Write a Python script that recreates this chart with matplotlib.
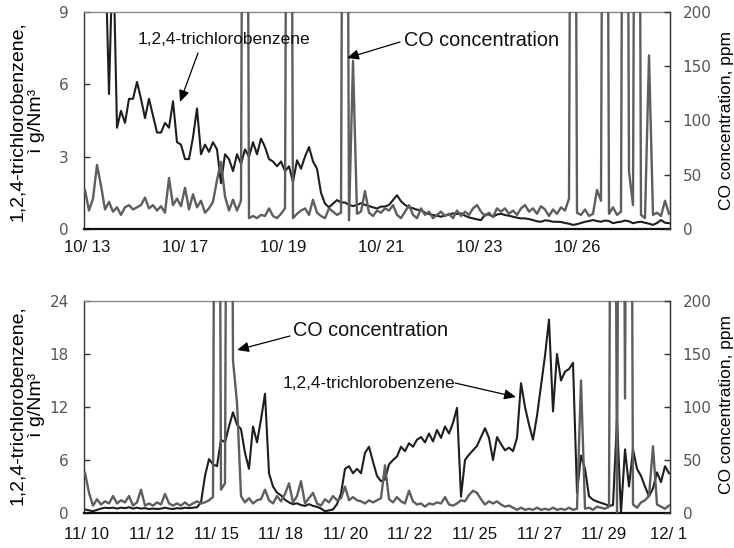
import matplotlib.pyplot as plt
import numpy as np

nan = np.nan

# October run: 1,2,4-trichlorobenzene (ug/Nm3) and CO (ppm), one value per sample
tcb_oct = [nan, nan, nan, nan, nan, 12.0, 5.6, 12.0, 4.2, 4.9,
           4.4, 5.4, 5.4, 6.1, 5.4, 4.6, 5.4, 4.7, 4.0, 4.0,
           4.4, 4.2, 5.3, 3.6, 3.5, 2.9, 2.9, 3.8, 5.0, 3.1,
           3.5, 3.2, 3.6, 3.3, 1.9, 3.1, 2.9, 2.4, 3.1, 2.7,
           3.3, 3.0, 3.6, 3.1, 3.75, 3.4, 2.9, 2.8, 2.6, 2.8,
           2.4, 2.6, 1.95, 2.85, 2.5, 3.0, 3.4, 2.8, 2.5, 1.5,
           1.05, 0.9, 1.05, 1.2, 1.1, 1.1, 1.0, 0.95, 1.0, 1.07,
           1.0, 0.95, 0.9, 0.85, 0.93, 0.93, 1.0, 1.2, 1.4, 1.15,
           1.0, 0.9, 0.86, 0.8, 0.78, 0.68, 0.62, 0.58, 0.55, 0.51,
           0.56, 0.6, 0.65, 0.62, 0.65, 0.55, 0.48, 0.44, 0.4, 0.37,
           0.6, 0.6, 0.51, 0.6, 0.63, 0.58, 0.55, 0.51, 0.47, 0.44,
           0.44, 0.41, 0.37, 0.32, 0.3, 0.36, 0.34, 0.3, 0.3, 0.29,
           0.25, 0.22, 0.17, 0.2, 0.25, 0.3, 0.33, 0.37, 0.33, 0.3,
           0.35, 0.33, 0.24, 0.28, 0.3, 0.35, 0.32, 0.24, 0.28, 0.3,
           0.26, 0.22, 0.17, 0.25, 0.37, 0.26, 0.24]
co_oct = [36, 17, 28, 59, 40, 18, 25, 16, 20, 13,
          20, 22, 18, 20, 22, 29, 19, 22, 17, 21,
          15, 47, 22, 28, 21, 38, 18, 32, 20, 26,
          15, 19, 25, 45, 62, 30, 17, 27, 17, 26,
          1000, 10, 12, 10, 13, 12, 19, 12, 10, 14,
          19, 1000, 10, 14, 17, 19, 13, 27, 15, 12,
          10, 19, 16, 13, 15, 1000, 8, 155, 14, 16,
          35, 15, 12, 17, 15, 19, 17, 22, 13, 10,
          16, 22, 13, 10, 19, 13, 16, 10, 13, 16,
          12, 14, 10, 17, 12, 16, 13, 19, 22, 16,
          12, 15, 11, 19, 16, 19, 14, 17, 13, 19,
          22, 16, 19, 14, 21, 18, 12, 18, 14, 20,
          17, 28, 1000, 15, 13, 18, 12, 14, 36, 26,
          1000, 14, 20, 13, 16, 1000, 53, 22, 1000, 13,
          10, 160, 13, 15, 12, 26, 14]

# November run
tcb_nov = [0.4, 0.3, 0.2, 0.35, 0.5, 0.6, 0.55, 0.6, 0.5, 0.6,
           0.55, 0.65, 0.5, 0.6, 0.5, 0.55, 0.45, 0.5, 0.45, 0.5,
           0.6, 0.5, 0.45, 0.55, 0.5, 0.6, 0.55, 0.6, 0.65, 1.2,
           4.2, 6.1, 5.5, 5.3, 8.3, 8.0, 9.8, 11.4, 10.0, 9.5,
           6.8, 5.0, 9.8, 8.0, 10.6, 13.5, 4.5, 3.0, 2.3, 2.0,
           1.5, 1.2, 1.0, 1.1, 0.9, 0.8, 1.0, 0.8, 0.7, 0.5,
           0.2, 0.3, 0.4, 1.0, 2.2, 5.0, 5.3, 4.5, 5.0, 4.5,
           6.8, 7.5, 5.8, 4.2, 3.6, 3.8, 5.5, 6.0, 6.4, 7.5,
           7.0, 7.9, 7.5, 8.3, 8.6, 8.0, 9.0, 8.1, 9.4, 8.5,
           9.8, 9.0, 10.2, 11.9, 1.85, 6.0, 6.6, 7.1, 7.6, 8.6,
           9.6, 8.5, 6.0, 8.6, 7.8, 7.1, 7.4, 7.0, 8.5, 14.7,
           12.0, 10.0, 8.3, 11.0, 14.4, 17.8, 21.9, 11.5, 18.0, 15.0,
           16.0, 16.3, 17.0, 2.3, 6.5, 5.0, 1.9, 1.5, 1.3, 1.15,
           1.0, 0.8, 0.9, 10.6, 0.0, 7.2, 3.0, 7.2, 5.0, 4.2,
           3.0, 1.9, 2.8, 4.6, 3.5, 5.3, 4.5]
co_nov = [38, 19, 7, 13, 8, 11, 9, 16, 9, 12,
          10, 16, 7, 10, 22, 7, 9, 7, 10, 8,
          18, 9, 7, 9, 7, 10, 7, 9, 11, 9,
          10, 12, 15, 1000, 22, 28, 1000, 144, 104, 16,
          10, 14, 9, 12, 13, 22, 12, 9, 16, 11,
          18, 28, 10, 16, 30, 9, 14, 19, 9, 7,
          13, 10, 16, 12, 14, 25, 12, 15, 12, 11,
          9, 12, 10, 12, 14, 45, 13, 10, 15, 11,
          9, 21, 11, 8, 9, 6, 9, 8, 10, 9,
          15, 8, 7, 9, 12, 11, 17, 21, 19, 13,
          8, 11, 9, 11, 8, 6, 7, 5, 3, 5,
          3, 4, 3, 5, 3, 4, 3, 5, 3, 4,
          3, 5, 3, 4, 125, 4, 5, 3, 6, 5,
          4, 6, 1000, 0, 1000, 108, 1000, 8, 5, 10,
          12, 16, 63, 8, 6, 4, 7]

oct_labels = ["10/ 13", "10/ 17", "10/ 19", "10/ 21", "10/ 23", "10/ 26"]
oct_label_at = [0.5, 25, 49.5, 74, 98.5, 123]
oct_marks = [49.5, 98.5]
nov_labels = ["11/ 10", "11/ 12", "11/ 15", "11/ 18", "11/ 20",
              "11/ 22", "11/ 25", "11/ 27", "11/ 29", "12/ 1"]
nov_label_at = [0.5, 16.65, 32.8, 48.95, 65.1, 81.25, 97.4, 113.55, 129.7, 145.85]
nov_marks = [32.8, 97.4]

W, H = 734, 548
fig = plt.figure(figsize=(W / 100, H / 100), dpi=100)
FONT = "Liberation Sans"


def panel(box, tcb, co, tcb_ticks, labels, label_at, marks, xpad):
    l, t, r, b = box
    ax = fig.add_axes([l / W, 1 - b / H, (r - l) / W, (b - t) / H])
    x = np.arange(len(tcb))
    ax.plot(x, tcb, color="#1e1e1e", lw=1.5, zorder=2)
    ax.set_xlim(-0.25, len(tcb) - 0.75)
    ax.set_ylim(tcb_ticks[0], tcb_ticks[-1])
    ax.set_yticks(tcb_ticks)

    ax2 = ax.twinx()
    ax2.plot(x, co, color="#5e5e5e", lw=1.7, zorder=3)
    ax2.set_ylim(0, 200)
    ax2.set_yticks([0, 50, 100, 150, 200])

    ax.set_xticks(label_at)
    ax.set_xticklabels(labels, fontsize=12, family=FONT, color="#111111")
    ax.set_xticks(marks, minor=True)
    ax.tick_params(axis="x", which="major", length=0, pad=xpad)
    ax.tick_params(axis="x", which="minor", direction="in", length=4,
                   width=1, color="#222222")
    ax.tick_params(axis="y", direction="in", length=4, width=1,
                   color="#333333", labelsize=11, labelcolor="#555555", pad=11)
    ax2.tick_params(axis="y", direction="in", length=4, width=1,
                    color="#333333", labelsize=11, labelcolor="#555555", pad=9)

    for s in ax.spines.values():
        s.set_color("#333333")
        s.set_linewidth(1.0)
    ax.spines["top"].set_color("#8a8a8a")
    ax.spines["bottom"].set_color("#111111")
    ax.spines["bottom"].set_linewidth(1.6)
    for name in ("left", "top", "bottom"):
        ax2.spines[name].set_visible(False)
    ax2.spines["right"].set_color("#333333")
    return ax, ax2


def note(text, size, center, start, tip):
    fig.text(center[0] / W, 1 - center[1] / H, text, ha="center", va="center",
             fontsize=size, family=FONT, color="#111111")
    fig.add_artist(plt.Annotation(
        "", xy=(tip[0], H - tip[1]), xycoords="figure pixels",
        xytext=(start[0], H - start[1]), textcoords="figure pixels",
        arrowprops=dict(arrowstyle="-|>,head_length=0.5,head_width=0.22",
                        color="black", lw=0.9, mutation_scale=14,
                        shrinkA=0, shrinkB=0)))


panel((84, 12, 670, 229), tcb_oct, co_oct, [0, 3, 6, 9],
      oct_labels, oct_label_at, oct_marks, 8)
panel((84, 301, 670, 513), tcb_nov, co_nov, [0, 6, 12, 18, 24],
      nov_labels, nov_label_at, nov_marks, 10)

left_label = "1,2,4-trichlorobenzene,\nì g/Nm³"
right_label = "CO concentration, ppm"
for cy in (121, 405):
    fig.text(27 / W, 1 - cy / H, left_label, rotation=90, ha="center",
             va="center", fontsize=14, family=FONT, linespacing=1.15)
    fig.text(727 / W, 1 - cy / H, right_label, rotation=90, ha="center",
             va="center", fontsize=12.5, family=FONT)

note("1,2,4-trichlorobenzene", 12.4, (224, 39), (198, 53), (180, 102))
note("CO concentration", 14.3, (482, 40), (400, 42), (347, 58))
note("CO concentration", 14.3, (371, 330), (290, 336), (237, 350))
note("1,2,4-trichlorobenzene", 12.4, (369, 384), (455, 383), (516, 397))

fig.savefig("out.png", dpi=100)
